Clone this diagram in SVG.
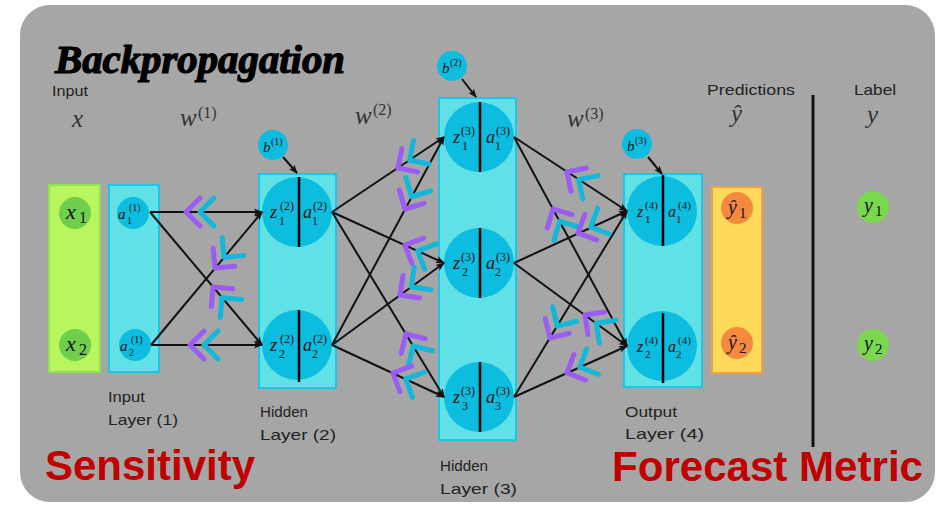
<svg xmlns="http://www.w3.org/2000/svg" xmlns:xlink="http://www.w3.org/1999/xlink" width="947" height="505" viewBox="0 0 947 505">
<defs>
<style>
.lay{fill:#5fe1e6;stroke:#1cc6e4;stroke-width:2}
.nd{fill:#0cbde0}
.div{stroke:#000;stroke-width:2.5}
.cn line{stroke:#111;stroke-width:2;fill:none;marker-end:url(#ah)}
.cp{stroke:#9b5cf2;stroke-width:5;stroke-linecap:round;stroke-linejoin:round;fill:none}
.cc{stroke:#13b7d9;stroke-width:5;stroke-linecap:round;stroke-linejoin:round;fill:none}
.hw{font-family:"Liberation Sans","DejaVu Sans",sans-serif;font-size:15px;fill:#222}
.m{font-family:"Liberation Serif","DejaVu Serif",serif;font-style:italic;fill:#111}
.s{font-style:normal}
.big{fill:#333}
.red{font-family:"Liberation Sans",Arial,sans-serif;font-weight:bold;font-size:42px;fill:#c00000}
</style>
<marker id="ah" viewBox="0 0 10 10" refX="9" refY="5" markerWidth="9" markerHeight="9" markerUnits="userSpaceOnUse" orient="auto"><path d="M0,1 L10,5 L0,9 L2.5,5 z" fill="#111"/></marker>
<g id="chv"><path class="cp" d="M14,-14 L0,0 L14,14"/><path class="cc" d="M28,-14 L14,0 L28,14"/></g>
</defs>
<rect x="20" y="5" width="915" height="497" rx="30" fill="#a6a6a6"/>
<text x="55" y="73" font-family="Liberation Serif,serif" font-weight="bold" font-style="italic" font-size="40" stroke="#000" stroke-width="1.2" textLength="290" lengthAdjust="spacingAndGlyphs">Backpropagation</text>
<text class="hw" x="52" y="96" font-size="14" textLength="36" lengthAdjust="spacingAndGlyphs">Input</text>
<text class="m big" x="72" y="127" font-size="25">x</text>
<text class="m big" x="180" y="126" font-size="25">w<tspan class="s" x="198" y="118" font-size="16">(1)</tspan></text>
<text class="m big" x="355" y="124" font-size="25">w<tspan class="s" x="373" y="115" font-size="16">(2)</tspan></text>
<text class="m big" x="567" y="127" font-size="25">w<tspan class="s" x="585" y="119" font-size="16">(3)</tspan></text>
<text class="hw" x="707" y="95" textLength="88" lengthAdjust="spacingAndGlyphs">Predictions</text>
<text class="m big" x="731" y="122" font-size="25">ŷ</text>
<text class="hw" x="854" y="95" textLength="42" lengthAdjust="spacingAndGlyphs">Label</text>
<text class="m big" x="867" y="123" font-size="25">y</text>
<line x1="813" y1="95" x2="813" y2="447" stroke="#111" stroke-width="3"/>

<g id="input-x">
<rect x="49" y="185" width="51" height="187" fill="#b7f65c" stroke="#93e055" stroke-width="2"/>
<circle cx="75" cy="213" r="16" fill="#6fce4c"/>
<circle cx="75" cy="345" r="16" fill="#6fce4c"/>
<text class="m" x="66" y="219" font-size="22">x<tspan class="s" x="79" y="223" font-size="16">1</tspan></text>
<text class="m" x="66" y="351" font-size="22">x<tspan class="s" x="79" y="355" font-size="16">2</tspan></text>
</g>

<g id="layer1">
<rect class="lay" x="109" y="185" width="50" height="187"/>
<circle class="nd" cx="133" cy="213" r="16"/>
<circle class="nd" cx="135" cy="345" r="16"/>
<text class="m" x="118" y="219" font-size="15">a<tspan class="s" x="127" y="224" font-size="10">1</tspan><tspan class="s" x="129" y="211" font-size="10">(1)</tspan></text>
<text class="m" x="120" y="351" font-size="15">a<tspan class="s" x="129" y="356" font-size="10">2</tspan><tspan class="s" x="131" y="343" font-size="10">(1)</tspan></text>
<text class="hw" x="108" y="402" textLength="37" lengthAdjust="spacingAndGlyphs">Input</text>
<text class="hw" x="108" y="425" textLength="70" lengthAdjust="spacingAndGlyphs">Layer (1)</text>
</g>

<g id="layer2">
<rect class="lay" x="259" y="174" width="77" height="214"/>
<circle class="nd" cx="297" cy="212" r="35"/>
<circle class="nd" cx="297" cy="345" r="35"/>
<line class="div" x1="299" y1="177" x2="299" y2="247"/>
<line class="div" x1="299" y1="310" x2="299" y2="382"/>
<text class="m" x="270" y="218" font-size="18">z<tspan class="s" x="279" y="225" font-size="12">1</tspan><tspan class="s" x="280" y="210" font-size="12">(2)</tspan><tspan x="303" y="218">a</tspan><tspan class="s" x="312" y="225" font-size="12">1</tspan><tspan class="s" x="313" y="210" font-size="12">(2)</tspan></text>
<text class="m" x="270" y="351" font-size="18">z<tspan class="s" x="279" y="358" font-size="12">2</tspan><tspan class="s" x="280" y="343" font-size="12">(2)</tspan><tspan x="303" y="351">a</tspan><tspan class="s" x="312" y="358" font-size="12">2</tspan><tspan class="s" x="313" y="343" font-size="12">(2)</tspan></text>
<text class="hw" x="260" y="417" textLength="48" lengthAdjust="spacingAndGlyphs">Hidden</text>
<text class="hw" x="260" y="440" textLength="76" lengthAdjust="spacingAndGlyphs">Layer (2)</text>
</g>

<g id="bias1">
<circle class="nd" cx="273" cy="145" r="15"/>
<text class="m" x="263" y="152" font-size="15">b<tspan class="s" x="271" y="145" font-size="10">(1)</tspan></text>
</g>

<g id="layer3">
<rect class="lay" x="439" y="98" width="77" height="342"/>
<circle class="nd" cx="479" cy="137" r="35"/>
<circle class="nd" cx="479" cy="263" r="35"/>
<circle class="nd" cx="479" cy="397" r="35"/>
<line class="div" x1="480" y1="102" x2="480" y2="172"/>
<line class="div" x1="480" y1="228" x2="480" y2="298"/>
<line class="div" x1="480" y1="362" x2="480" y2="432"/>
<text class="m" x="453" y="143" font-size="18">z<tspan class="s" x="462" y="150" font-size="12">1</tspan><tspan class="s" x="461" y="135" font-size="12">(3)</tspan><tspan x="486" y="143">a</tspan><tspan class="s" x="495" y="150" font-size="12">1</tspan><tspan class="s" x="496" y="135" font-size="12">(3)</tspan></text>
<text class="m" x="453" y="269" font-size="18">z<tspan class="s" x="462" y="276" font-size="12">2</tspan><tspan class="s" x="461" y="261" font-size="12">(3)</tspan><tspan x="486" y="269">a</tspan><tspan class="s" x="495" y="276" font-size="12">2</tspan><tspan class="s" x="496" y="261" font-size="12">(3)</tspan></text>
<text class="m" x="453" y="403" font-size="18">z<tspan class="s" x="462" y="410" font-size="12">3</tspan><tspan class="s" x="461" y="395" font-size="12">(3)</tspan><tspan x="486" y="403">a</tspan><tspan class="s" x="495" y="410" font-size="12">3</tspan><tspan class="s" x="496" y="395" font-size="12">(3)</tspan></text>
<text class="hw" x="440" y="471" textLength="48" lengthAdjust="spacingAndGlyphs">Hidden</text>
<text class="hw" x="440" y="494" textLength="77" lengthAdjust="spacingAndGlyphs">Layer (3)</text>
</g>

<g id="bias2">
<circle class="nd" cx="452" cy="66" r="15"/>
<text class="m" x="442" y="73" font-size="15">b<tspan class="s" x="450" y="66" font-size="10">(2)</tspan></text>
</g>

<g id="layer4">
<rect class="lay" x="624" y="174" width="78" height="213"/>
<circle class="nd" cx="662" cy="211" r="35"/>
<circle class="nd" cx="662" cy="346" r="35"/>
<line class="div" x1="663" y1="175" x2="663" y2="246"/>
<line class="div" x1="663" y1="313" x2="663" y2="383"/>
<text class="m" x="637" y="217" font-size="16">z<tspan class="s" x="645" y="223" font-size="11">1</tspan><tspan class="s" x="645" y="209" font-size="11">(4)</tspan><tspan x="668" y="217">a</tspan><tspan class="s" x="676" y="223" font-size="11">1</tspan><tspan class="s" x="678" y="209" font-size="11">(4)</tspan></text>
<text class="m" x="637" y="352" font-size="16">z<tspan class="s" x="645" y="358" font-size="11">2</tspan><tspan class="s" x="645" y="344" font-size="11">(4)</tspan><tspan x="668" y="352">a</tspan><tspan class="s" x="676" y="358" font-size="11">2</tspan><tspan class="s" x="678" y="344" font-size="11">(4)</tspan></text>
<text class="hw" x="625" y="417" textLength="52" lengthAdjust="spacingAndGlyphs">Output</text>
<text class="hw" x="625" y="439" textLength="79" lengthAdjust="spacingAndGlyphs">Layer (4)</text>
</g>

<g id="bias3">
<circle class="nd" cx="637" cy="144" r="15"/>
<text class="m" x="627" y="151" font-size="15">b<tspan class="s" x="635" y="144" font-size="10">(3)</tspan></text>
</g>

<g id="predictions">
<rect x="712" y="187" width="50" height="186" fill="#ffd95a" stroke="#f5a040" stroke-width="2"/>
<circle cx="737" cy="208" r="16" fill="#f58a3f"/>
<circle cx="737" cy="343" r="16" fill="#f58a3f"/>
<text class="m" x="728" y="214" font-size="20">ŷ<tspan class="s" x="739" y="218" font-size="15">1</tspan></text>
<text class="m" x="728" y="349" font-size="20">ŷ<tspan class="s" x="739" y="353" font-size="15">2</tspan></text>
</g>

<g id="labels">
<circle cx="873" cy="207" r="16" fill="#7ad84f"/>
<circle cx="873" cy="345" r="16" fill="#7ad84f"/>
<text class="m" x="864" y="212" font-size="20">y<tspan class="s" x="875" y="216" font-size="15">1</tspan></text>
<text class="m" x="864" y="350" font-size="20">y<tspan class="s" x="875" y="354" font-size="15">2</tspan></text>
</g>

<g id="connectors" class="cn">
<line x1="283" y1="157" x2="297" y2="173"/>
<line x1="462" y1="79" x2="476" y2="97"/>
<line x1="648" y1="157" x2="662" y2="174"/>
<line x1="150" y1="212" x2="262" y2="212"/>
<line x1="150" y1="212" x2="262" y2="345"/>
<line x1="151" y1="345" x2="262" y2="212"/>
<line x1="151" y1="345" x2="262" y2="345"/>
<line x1="332" y1="212" x2="444" y2="137"/>
<line x1="332" y1="212" x2="444" y2="263"/>
<line x1="332" y1="212" x2="444" y2="397"/>
<line x1="332" y1="345" x2="444" y2="137"/>
<line x1="332" y1="345" x2="444" y2="263"/>
<line x1="332" y1="345" x2="444" y2="397"/>
<line x1="514" y1="137" x2="627" y2="211"/>
<line x1="514" y1="137" x2="627" y2="346"/>
<line x1="514" y1="263" x2="627" y2="211"/>
<line x1="514" y1="263" x2="627" y2="346"/>
<line x1="514" y1="397" x2="627" y2="211"/>
<line x1="514" y1="397" x2="627" y2="346"/>
<use xlink:href="#chv" transform="translate(186,212)"/>
<use xlink:href="#chv" transform="translate(213,287) rotate(49.9)"/>
<use xlink:href="#chv" transform="translate(215,268) rotate(-50.2)"/>
<use xlink:href="#chv" transform="translate(190,345)"/>
<use xlink:href="#chv" transform="translate(398,168) rotate(-33.8)"/>
<use xlink:href="#chv" transform="translate(405,245) rotate(24.5)"/>
<use xlink:href="#chv" transform="translate(406,334) rotate(58.8)"/>
<use xlink:href="#chv" transform="translate(405,209) rotate(-61.7)"/>
<use xlink:href="#chv" transform="translate(400,295) rotate(-36.2)"/>
<use xlink:href="#chv" transform="translate(393,373) rotate(24.9)"/>
<use xlink:href="#chv" transform="translate(567,172) rotate(33.2)"/>
<use xlink:href="#chv" transform="translate(553,209) rotate(61.6)"/>
<use xlink:href="#chv" transform="translate(578,233) rotate(-24.7)"/>
<use xlink:href="#chv" transform="translate(585,315) rotate(36.3)"/>
<use xlink:href="#chv" transform="translate(550,338) rotate(-58.7)"/>
<use xlink:href="#chv" transform="translate(567,373) rotate(-24.3)"/>
</g>

<text class="red" x="45" y="480" textLength="210" lengthAdjust="spacingAndGlyphs">Sensitivity</text>
<text class="red" x="612" y="481" textLength="311" lengthAdjust="spacingAndGlyphs">Forecast Metric</text>
</svg>
